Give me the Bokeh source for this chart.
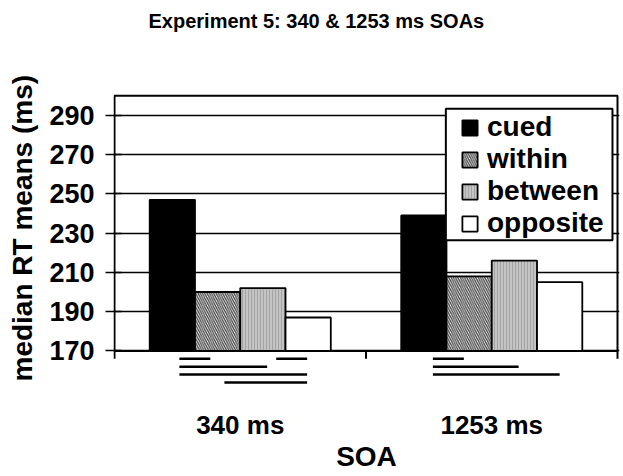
from bokeh.plotting import figure
from bokeh.models import Range1d, FixedTicker, Legend, LegendItem, ColumnDataSource, Title
from bokeh.embed import file_html
from bokeh.resources import INLINE

# ---- data ----
categories = ["340 ms", "1253 ms"]
series_names = ["cued", "within", "between", "opposite"]
cued = [247, 239]
within = [200, 208]
between = [202, 216]
opposite = [187, 205]
y_ticks = [170, 190, 210, 230, 250, 270, 290]
y_min, y_max = 170, 300

# significance comparison lines below the axis (x in category units, level 1 = topmost)
sig_x0 = [0.258, 0.643, 0.258, 0.258, 0.437, 1.266, 1.266, 1.266]
sig_x1 = [0.381, 0.766, 0.607, 0.766, 0.766, 1.389, 1.607, 1.770]
sig_level = [1, 1, 2, 3, 4, 1, 2, 3]

FONT = "Liberation Sans"
LEVEL_STEP = 4.03  # data units between stacked comparison lines

p = figure(width=621, height=474,
           x_range=Range1d(-0.00397, 2.00794), y_range=Range1d(152.36, 332.75),
           output_backend="svg", toolbar_location=None,
           min_border_left=112, min_border_right=2, min_border_top=31, min_border_bottom=85)
p.outline_line_color = None
p.background_fill_color = "white"
p.border_fill_color = "white"

p.title = Title(text="Experiment 5: 340 & 1253 ms SOAs", align="left", offset=35, standoff=0,
                text_font=FONT, text_font_size="20px", text_font_style="bold", text_color="black")

# grid
p.xgrid.visible = False
p.ygrid.ticker = FixedTicker(ticks=y_ticks)
p.ygrid.grid_line_color = "black"
p.ygrid.grid_line_width = 1.5
p.ygrid.bounds = (0, len(categories))

# y axis
p.yaxis.ticker = FixedTicker(ticks=y_ticks)
p.yaxis.axis_line_color = None
p.yaxis.major_tick_out = 8
p.yaxis.major_tick_in = 8
p.yaxis.major_tick_line_width = 1.5
p.yaxis.major_tick_line_color = "black"
p.yaxis.minor_tick_line_color = None
p.yaxis.major_label_standoff = 11
p.yaxis.major_label_text_font = FONT
p.yaxis.major_label_text_font_size = "27px"
p.yaxis.major_label_text_font_style = "bold"
p.yaxis.major_label_text_color = "black"

# y axis title (placed as a side title so it can be positioned along the axis)
p.add_layout(Title(text="median RT means (ms)", align="left", offset=4, standoff=13,
                   vertical_align="top", text_font=FONT, text_font_size="28px",
                   text_font_style="bold", text_color="black"), "left")

# x axis
centers = [i + 0.5 for i in range(len(categories))]
p.xaxis.ticker = FixedTicker(ticks=centers)
p.xaxis.major_label_overrides = {c: lab for c, lab in zip(centers, categories)}
p.xaxis.axis_line_color = None
p.xaxis.major_tick_line_color = None
p.xaxis.minor_tick_line_color = None
p.xaxis.major_tick_out = 0
p.xaxis.major_tick_in = 0
p.xaxis.major_label_standoff = 24
p.xaxis.major_label_text_font = FONT
p.xaxis.major_label_text_font_size = "26px"
p.xaxis.major_label_text_font_style = "bold"
p.xaxis.major_label_text_color = "black"
p.xaxis.axis_label = "SOA"
p.xaxis.axis_label_text_font = FONT
p.xaxis.axis_label_text_font_size = "28px"
p.xaxis.axis_label_text_font_style = "bold"
p.xaxis.axis_label_text_color = "black"
p.xaxis.axis_label_standoff = -2

# bars
bar_w = 0.18
offsets = [-0.27, -0.09, 0.09, 0.27]
values = [cued, within, between, opposite]
styles = [
    dict(fill_color="black"),
    dict(fill_color="white", hatch_pattern="left_diagonal_line", hatch_color="#474747",
         hatch_scale=4.5, hatch_weight=1.3),
    dict(fill_color="#c4c4c4", hatch_pattern="vertical_line", hatch_color="#a4a4a4",
         hatch_scale=3, hatch_weight=1),
    dict(fill_color="white"),
]
items = []
for name, vals, off, st in zip(series_names, values, offsets, styles):
    src = ColumnDataSource(dict(x=[c + off for c in centers], top=vals,
                                bottom=[y_min] * len(vals)))
    r = p.vbar(x="x", top="top", bottom="bottom", width=bar_w, source=src,
               line_color="black", line_width=1.8, **st)
    items.append(LegendItem(label=name, renderers=[r]))

# plot box
p.quad(left=[0], right=[len(categories)], bottom=[y_min], top=[y_max],
       fill_color=None, line_color="black", line_width=2)
# category separator ticks below the axis
bounds = list(range(len(categories) + 1))
p.segment(x0=bounds, x1=bounds, y0=[y_min - 2 * LEVEL_STEP / 2] * len(bounds),
          y1=[y_min] * len(bounds), line_color="black", line_width=2)

# significance lines
sig_y = [y_min - LEVEL_STEP * lv for lv in sig_level]
p.segment(x0=sig_x0, x1=sig_x1, y0=sig_y, y1=sig_y, line_color="black", line_width=2.5)

# legend frame (white box with black border) behind the legend entries
p.quad(left=[1.3175], right=[1.980], bottom=[226.4], top=[293.4],
       fill_color="white", line_color="black", line_width=2)

legend = Legend(items=items, location=(347, 146))
legend.label_text_font = FONT
legend.label_text_font_size = "28px"
legend.label_text_font_style = "bold"
legend.label_text_color = "black"
legend.glyph_width = 19
legend.glyph_height = 19
legend.label_standoff = 8
legend.spacing = 0
legend.padding = 0
legend.margin = 0
legend.border_line_color = None
legend.background_fill_alpha = 0
p.add_layout(legend)

open("out.html", "w").write(file_html(p, INLINE))
